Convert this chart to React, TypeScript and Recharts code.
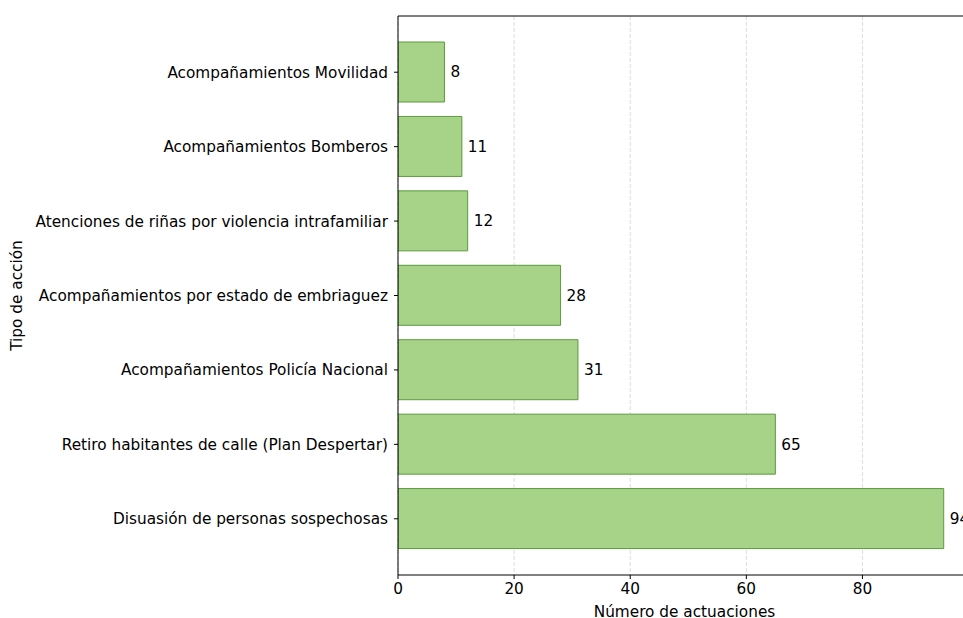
import { BarChart, Bar, XAxis, YAxis, CartesianGrid, LabelList } from "recharts";

const acciones = [
  "Acompañamientos Movilidad",
  "Acompañamientos Bomberos",
  "Atenciones de riñas por violencia intrafamiliar",
  "Acompañamientos por estado de embriaguez",
  "Acompañamientos Policía Nacional",
  "Retiro habitantes de calle (Plan Despertar)",
  "Disuasión de personas sospechosas",
];
const actuaciones = [8, 11, 12, 28, 31, 65, 94];
const xTicks = [0, 20, 40, 60, 80];

const data = acciones.map((name, i) => ({ name, value: actuaciones[i] }));

const font = "'DejaVu Sans', sans-serif";
const fs = 15.3;

export default function App() {
  return (
    <div
      style={{
        position: "absolute",
        left: 0,
        top: 0,
        width: 963,
        height: 618,
        overflow: "hidden",
        background: "#fff",
        fontFamily: font,
      }}
    >
      <BarChart
        width={1000}
        height={618}
        data={data}
        layout="vertical"
        margin={{ top: 15, right: 29, left: 0, bottom: 0 }}
        barCategoryGap={0}
      >
        <CartesianGrid
          horizontal={false}
          stroke="#dcdcdc"
          strokeDasharray="4 2"
        />
        <XAxis
          type="number"
          domain={[0, 98.7]}
          ticks={xTicks}
          allowDataOverflow
          height={43}
          tickSize={4}
          tickMargin={4}
          stroke="#000"
          tick={{ fill: "#000", fontSize: fs, fontFamily: font }}
          label={{
            value: "Número de actuaciones",
            position: "insideBottom",
            offset: 1,
            fill: "#000",
            fontSize: fs,
            fontFamily: font,
          }}
        />
        <XAxis
          xAxisId="top"
          type="number"
          orientation="top"
          domain={[0, 98.7]}
          height={1}
          tick={false}
          tickLine={false}
          axisLine={{ stroke: "#000" }}
        />
        <YAxis
          type="category"
          dataKey="name"
          width={398}
          padding={{ top: 19, bottom: 19 }}
          tickSize={4}
          tickMargin={6}
          stroke="#000"
          interval={0}
          tick={{ fill: "#000", fontSize: fs, fontFamily: font }}
          label={{
            value: "Tipo de acción",
            angle: -90,
            position: "insideLeft",
            offset: 17,
            style: { textAnchor: "middle" },
            fill: "#000",
            fontSize: fs,
            fontFamily: font,
          }}
        />
        <Bar
          dataKey="value"
          barSize={60}
          fill="#a6d388"
          stroke="#5c9a3e"
          strokeWidth={1}
          isAnimationActive={false}
        >
          <LabelList
            dataKey="value"
            position="right"
            offset={6}
            fill="#000"
            fontSize={fs}
            fontFamily={font}
          />
        </Bar>
      </BarChart>
    </div>
  );
}
